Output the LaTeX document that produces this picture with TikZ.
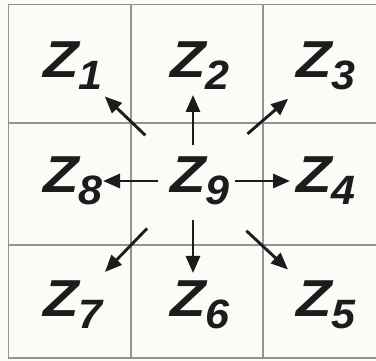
\documentclass[tikz,border=0pt]{standalone}
\usepackage{fontspec}
\setmainfont{Liberation Sans}
\usetikzlibrary{arrows.meta}
\definecolor{gridgray}{HTML}{939393}
\definecolor{paper}{HTML}{FBFBF7}
\definecolor{ink}{HTML}{1C1C1C}
\newcommand{\zlab}[1]{\fontsize{52}{52}\selectfont\bfseries\itshape\scalebox{1.12}[1]{Z}\raisebox{-12pt}{\fontsize{41}{41}\selectfont\scalebox{1.05}[1]{#1}}}
\begin{document}
\begin{tikzpicture}[x=1pt,y=-1pt,
  zone/.style={inner sep=0pt,text=ink},
  arr/.style={ink,line width=2.9pt,-{Triangle[length=17pt,width=14pt]}}]
\useasboundingbox (0,0) rectangle (376,361);
\fill[paper] (0,0) rectangle (376,361);
% grid
\draw[gridgray,line width=1.6pt] (376,4.5) -- (8.5,4.5) -- (8.5,358) -- (376,358);
\foreach \x in {131,263} \draw[gridgray,line width=1.6pt] (\x,4.5) -- (\x,358);
\foreach \y in {123,245} \draw[gridgray,line width=1.6pt] (8.5,\y) -- (376,\y);
% zones
\node[zone] (z1) at (73,66) {\zlab{1}};
\node[zone] (z2) at (200,66) {\zlab{2}};
\node[zone] (z3) at (326,66) {\zlab{3}};
\node[zone] (z8) at (73,181) {\zlab{8}};
\node[zone] (z9) at (200,181) {\zlab{9}};
\node[zone] (z4) at (326,181) {\zlab{4}};
\node[zone] (z7) at (73,305) {\zlab{7}};
\node[zone] (z6) at (200,305) {\zlab{6}};
\node[zone] (z5) at (326,305) {\zlab{5}};
\coordinate (hub) at ([xshift=-7pt]z9.center);
% moves
\draw[arr,shorten <=36pt,shorten >=29pt] (hub) -- (hub |- z2);
\draw[arr,shorten <=39pt,shorten >=32pt] (hub) -- (hub |- z6);
\draw[arr,shorten <=35pt,shorten >=30pt] (hub) -- (z8.center);
\draw[arr,shorten <=42pt,shorten >=36pt] (hub) -- (z4.center);
\foreach \k/\a/\b in {1/66/44,3/72/50,5/73/52,7/66/46}
  \draw[arr,shorten <=\a pt,shorten >=\b pt] (hub) -- (z\k.center);
\end{tikzpicture}
\end{document}
